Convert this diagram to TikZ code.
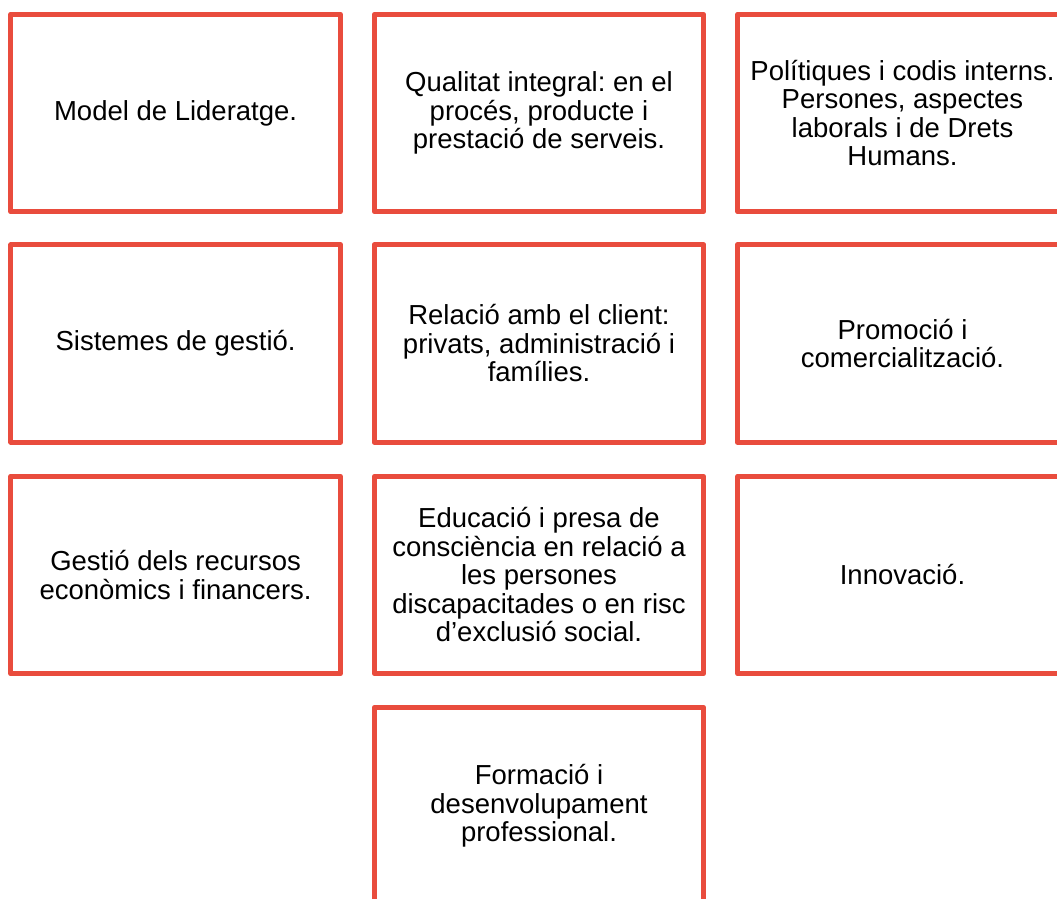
\documentclass[tikz,border=0pt]{standalone}
\usepackage{fontspec}
\setmainfont{Liberation Sans}
\frenchspacing
\definecolor{boxred}{RGB}{233,76,61}
\begin{document}
\begin{tikzpicture}[x=1pt,y=-1pt,
  card/.style={draw=boxred, line width=5pt, line join=round, rectangle,
    minimum width=329.5pt, minimum height=197.5pt, inner sep=0pt,
    align=center, font=\fontsize{27.5}{28.5}\selectfont\frenchspacing, text=black}]
\useasboundingbox (0,0) rectangle (1057,899);
\clip (0,0) rectangle (1057,899);
\node[card] (b1) at (175.6,113) {Model de Lideratge.};
\node[card] (b2) at (539,113) {Qualitat integral: en el\\procés, producte i\\prestació de serveis.};
\node[card] (b3) at (902.5,113) {Polítiques i codis interns.\\Persones, aspectes\\laborals i de Drets\\Humans.};
\node[card] (b4) at (175.6,343.5) {Sistemes de gestió.};
\node[card] (b5) at (539,343.5) {Relació amb el client:\\privats, administració i\\famílies.};
\node[card] (b6) at (902.5,343.5) {Promoció i\\comercialització.};
\node[card] (b7) at (175.6,575) {Gestió dels recursos\\econòmics i financers.};
\node[card] (b8) at (539,575) {Educació i presa de\\consciència en relació a\\les persones\\discapacitades o en risc\\d’exclusió social.};
\node[card] (b9) at (902.5,575) {Innovació.};
\node[card] (b10) at (539,806) {Formació i\\desenvolupament\\professional.};
\end{tikzpicture}
\end{document}
